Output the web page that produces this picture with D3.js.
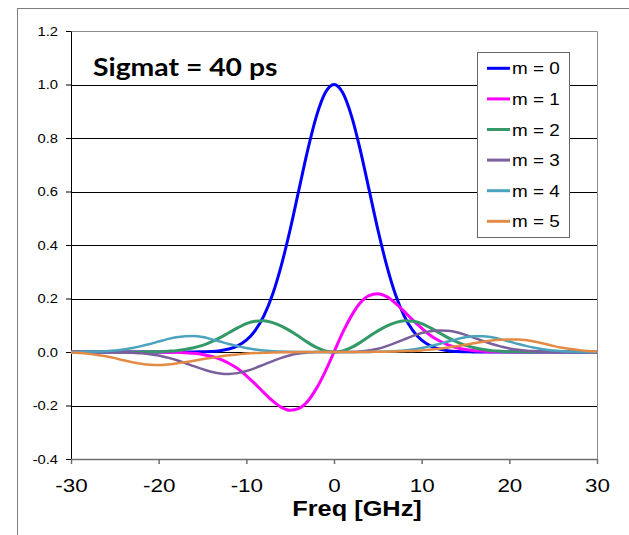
<!DOCTYPE html>
<html>
<head>
<meta charset="utf-8">
<script src="https://cdn.jsdelivr.net/npm/d3@7"></script>
<style>
body { margin: 0; background: #fff; }
svg { display: block; }
</style>
</head>
<body>
<script>
// frequency grid, GHz
var freq = [-30,-29,-28,-27,-26,-25,-24,-23,-22,-21,-20,-19,-18,-17,-16,-15,-14,-13,-12,-11,-10,
            -9,-8,-7,-6,-5,-4,-3,-2,-1,0,1,2,3,4,5,6,7,8,9,
            10,11,12,13,14,15,16,17,18,19,20,21,22,23,24,25,26,27,28,29,30];

// values
var m0 = [0,0,0,0,0,0,0,0,0,0,0,0,0,0,0,
          0.001,0.002,0.005,0.011,0.023,0.044,0.080,0.135,0.216,0.325,0.458,0.607,0.755,0.882,0.969,
          1,
          0.969,0.882,0.755,0.607,0.458,0.325,0.216,0.135,0.080,0.044,0.023,0.011,0.005,0.002,0.001,
          0,0,0,0,0,0,0,0,0,0,0,0,0,0,0];
var m1 = [0,0,0,0,0,0,0,0,0,0,0,
          -0.001,-0.001,-0.003,-0.005,-0.009,-0.016,-0.027,-0.042,-0.062,-0.089,-0.119,-0.152,-0.183,-0.207,-0.218,-0.211,-0.184,-0.136,-0.073,
          0,
          0.073,0.136,0.184,0.211,0.218,0.207,0.183,0.152,0.119,0.089,0.062,0.042,0.027,0.016,0.009,0.005,0.003,0.001,0.001,
          0,0,0,0,0,0,0,0,0,0,0];
var m2 = [0,0,0,0,0,0,0,0,0,
          0.001,0.001,0.003,0.005,0.009,0.016,0.025,0.038,0.054,0.072,0.090,0.106,0.115,0.117,0.110,0.097,0.079,0.058,0.036,0.017,0.004,
          0,
          0.004,0.017,0.036,0.058,0.079,0.097,0.110,0.117,0.115,0.106,0.090,0.072,0.054,0.038,0.025,0.016,0.009,0.005,0.003,0.001,0.001,
          0,0,0,0,0,0,0,0,0];
var m3 = [0,0,0,0,0,
          -0.001,-0.001,-0.003,-0.005,-0.008,-0.013,-0.021,-0.030,-0.041,-0.053,-0.064,-0.074,-0.080,-0.082,-0.079,-0.071,-0.060,-0.047,-0.034,-0.022,-0.012,-0.006,-0.002,0,0,
          0,
          0,0,0.002,0.006,0.012,0.022,0.034,0.047,0.060,0.071,0.078,0.080,0.079,0.074,0.064,0.053,0.041,0.030,0.021,0.013,0.008,0.005,0.003,0.001,0.001,
          0,0,0,0,0];
var m4 = [0,0,0.001,0.002,0.003,0.006,0.009,0.015,0.022,0.030,0.039,0.048,0.055,0.059,0.060,0.056,0.048,0.039,0.030,0.022,0.015,0.009,0.006,0.003,0.002,0.001,0,0,0,0,
          0,
          0,0,0,0,0.001,0.002,0.003,0.006,0.009,0.015,0.022,0.030,0.039,0.048,0.055,0.059,0.059,0.055,0.048,0.039,0.030,0.022,0.015,0.009,0.006,0.003,0.002,0.001,0,0];
var m5 = [-0.002,-0.004,-0.007,-0.011,-0.016,-0.023,-0.031,-0.038,-0.044,-0.048,-0.049,-0.047,-0.043,-0.038,-0.033,-0.027,-0.022,-0.017,-0.012,-0.009,-0.006,-0.004,-0.003,-0.002,-0.001,-0.001,0,0,0,0,
          0,
          0,0,0,0,0.001,0.001,0.002,0.003,0.004,0.006,0.009,0.012,0.017,0.022,0.027,0.033,0.038,0.043,0.046,0.047,0.047,0.044,0.038,0.031,0.023,0.016,0.011,0.007,0.004,0.002];

var seriesNames = ["m = 0", "m = 1", "m = 2", "m = 3", "m = 4", "m = 5"];
var seriesData = [m0, m1, m2, m3, m4, m5];
var seriesColors = ["#0000ff", "#ff00ff", "#339966", "#7a5f9c", "#4ba3bd", "#e38b45"];
var seriesWidths = [3, 3, 3, 2.5, 2.5, 2.5];

var xTicks = [-30, -20, -10, 0, 10, 20, 30];
var yTicks = [-0.4, -0.2, 0, 0.2, 0.4, 0.6, 0.8, 1.0, 1.2];
var titleText = "Sigmat = 40 ps";
var xLabel = "Freq [GHz]";

var width = 629, height = 535;
var plot = {left: 71, top: 31, right: 597, bottom: 459};
var stretch = 1.18;   // text in the source is drawn wide

var svg = d3.select("body").append("svg")
            .attr("width", width)
            .attr("height", height);

// chart area frame (runs off the page on right and bottom)
svg.append("rect")
   .attr("x", 17.5).attr("y", 8.5)
   .attr("width", 700).attr("height", 700)
   .attr("fill", "none")
   .attr("stroke", "#7f7f7f");

var x = d3.scaleLinear().domain([-30, 30]).range([plot.left, plot.right]);
var y = d3.scaleLinear().domain([-0.4, 1.2]).range([plot.bottom, plot.top]);

function crisp(v) { return Math.round(v) + 0.5; }
// plain hyphen for negatives, like the source
function hyphen(fmt) { return function (d) { return fmt(d).replace("\u2212", "-"); }; }

// gridlines
svg.append("g")
   .selectAll("line")
   .data(yTicks.filter(function (d) { return d > -0.3 && d < 1.1; }))
   .enter().append("line")
   .attr("x1", plot.left).attr("x2", plot.right)
   .attr("y1", function (d) { return crisp(y(d)); })
   .attr("y2", function (d) { return crisp(y(d)); })
   .attr("stroke", "#000")
   .attr("stroke-width", 1);

// plot area border top / right
svg.append("path")
   .attr("d", "M" + plot.left + "," + crisp(plot.top) + "H" + crisp(plot.right) + "V" + plot.bottom)
   .attr("fill", "none")
   .attr("stroke", "#8c8c8c");

// y axis
var yAxis = svg.append("g")
   .attr("transform", "translate(" + plot.left + ",0)")
   .call(d3.axisLeft(y).tickValues(yTicks).tickSize(5).tickSizeOuter(0).tickFormat(hyphen(d3.format(".1f"))));
yAxis.select(".domain").attr("stroke", "#000");
yAxis.selectAll(".tick line").attr("stroke", "#000");
yAxis.selectAll(".tick text")
     .attr("x", -11)
     .attr("transform", "scale(" + stretch + ",1)")
     .attr("font-family", "Liberation Sans, Arial, sans-serif")
     .attr("font-size", 12.5)
     .attr("fill", "#000");

// x axis
var xAxis = svg.append("g")
   .attr("transform", "translate(0," + plot.bottom + ")")
   .call(d3.axisBottom(x).tickValues(xTicks).tickSize(5).tickSizeOuter(0).tickFormat(hyphen(d3.format("d"))));
xAxis.select(".domain").attr("stroke", "#6f6f6f").attr("stroke-width", 1.5);
xAxis.selectAll(".tick line").attr("stroke", "#6f6f6f").attr("stroke-width", 1.5);
xAxis.selectAll(".tick text")
     .attr("y", 33).attr("dy", 0)
     .attr("transform", "scale(" + stretch + ",1)")
     .attr("font-family", "Liberation Sans, Arial, sans-serif")
     .attr("font-size", 19)
     .attr("fill", "#000");

// series
var line = d3.line()
             .x(function (d) { return x(d[0]); })
             .y(function (d) { return y(d[1]); })
             .curve(d3.curveMonotoneX);

svg.append("g")
   .selectAll("path")
   .data(seriesData)
   .enter().append("path")
   .attr("d", function (s) { return line(freq.map(function (f, i) { return [f, s[i]]; })); })
   .attr("fill", "none")
   .attr("stroke", function (s, i) { return seriesColors[i]; })
   .attr("stroke-width", function (s, i) { return seriesWidths[i]; })
   .attr("stroke-linejoin", "round");

// title and axis label
function stretchedText(tx, ty, txt) {
  return svg.append("text")
            .attr("transform", "translate(" + tx + "," + ty + ") scale(" + stretch + ",1)")
            .text(txt);
}

stretchedText(93, 76, titleText)
   .attr("font-family", "Lato, Open Sans, sans-serif")
   .attr("font-weight", "bold")
   .attr("font-size", 24);

stretchedText(357, 516, xLabel)
   .attr("text-anchor", "middle")
   .attr("font-family", "Liberation Sans, Arial, sans-serif")
   .attr("font-weight", "bold")
   .attr("font-size", 21.5);

// legend
var legend = svg.append("g");
legend.append("rect")
      .attr("x", 477.5).attr("y", 52.5)
      .attr("width", 92).attr("height", 185)
      .attr("fill", "#fff")
      .attr("stroke", "#666");

var rows = legend.selectAll("g.row")
      .data(seriesNames)
      .enter().append("g")
      .attr("class", "row")
      .attr("transform", function (d, i) { return "translate(0," + (68.3 + i * 30.6) + ")"; });
rows.append("line")
    .attr("x1", 487).attr("x2", 510)
    .attr("stroke", function (d, i) { return seriesColors[i]; })
    .attr("stroke-width", 3);
rows.append("text")
    .attr("transform", "translate(512,6) scale(" + stretch + ",1)")
    .attr("font-family", "Liberation Sans, Arial, sans-serif")
    .attr("font-size", 16)
    .attr("fill", "#000")
    .text(function (d) { return d; });
</script>
</body>
</html>
